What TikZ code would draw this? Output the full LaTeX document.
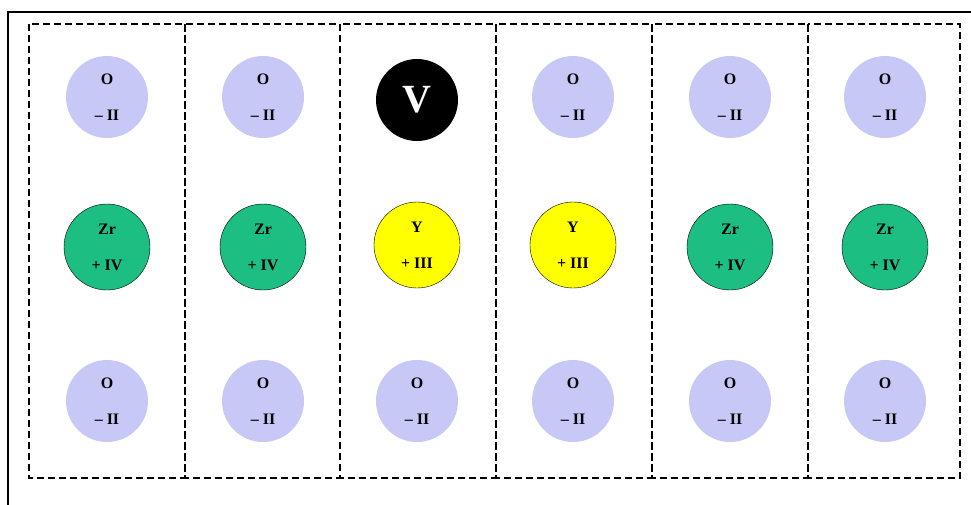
\documentclass[tikz,border=0pt]{standalone}
\usepackage{fontspec}
\setmainfont{Liberation Serif}
\usetikzlibrary{positioning}
\definecolor{oxyblue}{RGB}{200,200,246}
\definecolor{zrgreen}{RGB}{28,190,130}
\definecolor{ytyellow}{RGB}{255,255,0}

\begin{document}
\begin{tikzpicture}[
  x=1pt, y=-1pt,
  ion/.style={circle, minimum size=82pt, inner sep=0pt, align=center,
              font=\bfseries\fontsize{16}{36}\selectfont},
  oxy/.style={ion, fill=oxyblue},
  zr/.style={ion, draw, thin, fill=zrgreen, minimum size=86pt},
  yt/.style={ion, draw, thin, fill=ytyellow, minimum size=86pt},
  vac/.style={ion, fill=black, text=white,
              font=\bfseries\fontsize{40}{40}\selectfont},
  cell/.style={draw, dash pattern=on 7pt off 4pt, line width=1.1pt},
]
\useasboundingbox (0,0) rectangle (971,504);
\draw[line width=1.4pt] (8,12) rectangle (976,510);
% dashed columns
\foreach \xl/\xr in {29/185,185/340,340/496,496/652,652/808,808/960}
  \draw[cell] (\xl,24) rectangle (\xr,478);
% top row
\node[oxy] (t1) at (107,97) {O\\– II};
\node[oxy] (t2) at (263,97) {O\\– II};
\node[vac] (t3) at (417,100) {V};
\node[oxy] (t4) at (573,97) {O\\– II};
\node[oxy] (t5) at (730,97) {O\\– II};
\node[oxy] (t6) at (885,97) {O\\– II};
% cation row
\node[zr] (m1) at (107,247) {Zr\\+ IV};
\node[zr] (m2) at (263,247) {Zr\\+ IV};
\node[yt] (m3) at (417,245) {Y\\+ III};
\node[yt] (m4) at (573,245) {Y\\+ III};
\node[zr] (m5) at (730,247) {Zr\\+ IV};
\node[zr] (m6) at (885,247) {Zr\\+ IV};
% bottom row
\foreach \i/\x in {1/107,2/263,3/417,4/573,5/730,6/885}
  \node[oxy] (b\i) at (\x,401) {O\\– II};
\end{tikzpicture}
\end{document}
